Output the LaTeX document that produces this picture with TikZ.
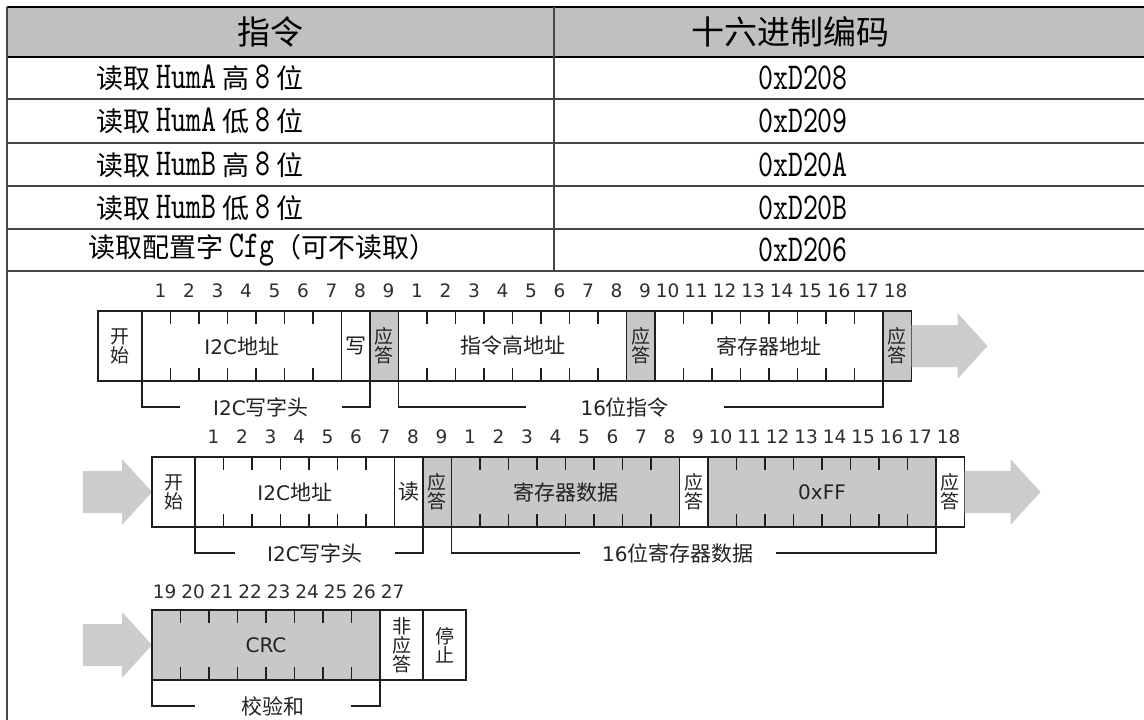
\documentclass[tikz,border=0pt]{standalone}
\usepackage{fontspec}
\newfontfamily\cjk{Noto Sans CJK SC}
\newfontfamily\vd{DejaVu Sans}
\newfontfamily\tabtt[FakeStretch=0.75]{lmmono10-regular.otf}
\usetikzlibrary{positioning,calc}
\definecolor{headgray}{RGB}{192,192,192}
\definecolor{cellgray}{RGB}{200,200,200}
\definecolor{arrowgray}{RGB}{204,204,204}
\definecolor{framec}{RGB}{30,30,30}
\definecolor{textc}{RGB}{34,34,34}
\definecolor{numc}{RGB}{45,45,45}
\definecolor{tabc}{RGB}{70,70,70}
\def\bw{28.5}
\newcommand{\lat}[1]{{\fontsize{20}{20}\selectfont\vd #1}}
\newcommand{\hexf}[1]{{\fontsize{38}{38}\selectfont\tabtt #1}}
% ticks inside a field of several bits
\newcommand{\bitticks}[2]{%
  \foreach \k in {1,...,#2} {
    \draw[tick] ($(#1.north west)+(\k*\bw,0)$) -- ++(0,13);
    \draw[tick] ($(#1.south west)+(\k*\bw,0)$) -- ++(0,-13);
  }}
% bracket under a group of fields
\newcommand{\fieldbrace}[6]{%
  \draw[brace] (#1) -- ++(0,26) -- ++(#3,0);
  \draw[brace] (#2) -- ++(0,26) -- ++(-#4,0);
  \node[bracetext] (#6) at ($(#1)!0.5!(#2)+(#3/2-#4/2,26)$) {#5};}
% big grey arrow: left x, middle y, length
\newcommand{\flowarrow}[3]{%
  \fill[arrowgray] (#1,#2-21) -- (#1+#3-30,#2-21) -- (#1+#3-30,#2-33) -- (#1+#3,#2)
    -- (#1+#3-30,#2+33) -- (#1+#3-30,#2+21) -- (#1,#2+21) -- cycle;}

\begin{document}
\begin{tikzpicture}[x=1pt, y=-1pt,
  cell/.style={draw=framec, line width=1.9pt, minimum height=70pt, inner sep=0pt,
    outer sep=0pt, anchor=west, text=textc, font=\fontsize{21}{21}\selectfont\cjk},
  ackcell/.style={cell, align=center, font=\fontsize{19}{19}\selectfont\cjk},
  shaded/.style={fill=cellgray},
  tick/.style={draw=framec, line width=1.9pt},
  brace/.style={draw=framec, line width=1.6pt},
  bracetext/.style={text=textc, inner sep=0pt, fill=white, font=\fontsize{21}{21}\selectfont\cjk},
  bitno/.style={anchor=east, text=numc, inner sep=0pt, font=\fontsize{18.5}{18.5}\selectfont\vd},
  rowtext/.style={inner sep=0pt, font=\fontsize{27}{27}\selectfont\cjk},
  headtext/.style={inner sep=0pt, font=\fontsize{33}{33}\selectfont\cjk},
  tabline/.style={draw=tabc, line width=1.5pt},
]
\useasboundingbox (0,0) rectangle (1144,720);

	% table
	\fill[headgray] (7,7) rectangle (1144,57);
	\draw[line width=2pt] (7,7) -- (1144,7);
	\draw[line width=2pt] (7,57) -- (1144,57);
	\foreach \yy in {99,143,186,229,271} \draw[tabline] (7,\yy) -- (1144,\yy);
	\draw[tabline] (554,7) -- (554,271);
	\draw[tabline] (7,7) -- (7,720);

	\node[headtext] (hcmd) at (270,32) {指令};
	\node[headtext] (hcode) at (790,32) {十六进制编码};
	\node[rowtext, anchor=west] (cmd1) at (96,78) {读取 \hexf{HumA} 高 \hexf{8} 位};
	\node[rowtext, anchor=west] (cmd2) at (96,121) {读取 \hexf{HumA} 低 \hexf{8} 位};
	\node[rowtext, anchor=west] (cmd3) at (96,164.5) {读取 \hexf{HumB} 高 \hexf{8} 位};
	\node[rowtext, anchor=west] (cmd4) at (96,207.5) {读取 \hexf{HumB} 低 \hexf{8} 位};
	\node[rowtext, anchor=west] (cmd5) at (88,250) {读取配置字 \hexf{Cfg}（可不读取）};
	\node[rowtext] (code1) at (803,78) {\hexf{0xD208}};
	\node[rowtext] (code2) at (803,121) {\hexf{0xD209}};
	\node[rowtext] (code3) at (803,164.5) {\hexf{0xD20A}};
	\node[rowtext] (code4) at (803,207.5) {\hexf{0xD20B}};
	\node[rowtext] (code5) at (803,250) {\hexf{0xD206}};

	% write frame
	\node[ackcell, minimum width=44pt] (r1start) at (98,346) {开\\始};
	\node[cell, minimum width=7*\bw pt, right=0pt of r1start] (r1addr) {\lat{I2C}地址};
	\node[cell, minimum width=\bw pt, right=0pt of r1addr] (r1wr) {写};
	\node[ackcell, shaded, minimum width=\bw pt, right=0pt of r1wr] (r1ack1) {应\\答};
	\node[cell, minimum width=8*\bw pt, right=0pt of r1ack1] (r1cmd) {指令高地址};
	\node[ackcell, shaded, minimum width=\bw pt, right=0pt of r1cmd] (r1ack2) {应\\答};
	\node[cell, minimum width=8*\bw pt, right=0pt of r1ack2] (r1reg) {寄存器地址};
	\node[ackcell, shaded, minimum width=\bw pt, right=0pt of r1reg] (r1ack3) {应\\答};
	\bitticks{r1addr}{6}
	\bitticks{r1cmd}{7}
	\bitticks{r1reg}{7}
	\foreach \i in {1,...,9} \node[bitno] (r1a\i) at (142+\i*\bw-4,291) {\i};
	\foreach \i in {1,...,18} \node[bitno] (r1b\i) at (142+9*\bw+\i*\bw-4,291) {\i};
	\fieldbrace{r1addr.south west}{r1wr.south east}{38}{28}{\lat{I2C}写字头}{r1head}
	\fieldbrace{r1cmd.south west}{r1reg.south east}{127}{159}{\lat{16}位指令}{r1word}
	\flowarrow{911.5}{346}{76}

	% read frame
	\flowarrow{83}{492}{69}
	\node[ackcell, minimum width=43pt] (r2start) at (152,492) {开\\始};
	\node[cell, minimum width=7*\bw pt, right=0pt of r2start] (r2addr) {\lat{I2C}地址};
	\node[cell, minimum width=\bw pt, right=0pt of r2addr] (r2rd) {读};
	\node[ackcell, shaded, minimum width=\bw pt, right=0pt of r2rd] (r2ack1) {应\\答};
	\node[cell, shaded, minimum width=8*\bw pt, right=0pt of r2ack1] (r2data) {寄存器数据};
	\node[ackcell, minimum width=\bw pt, right=0pt of r2data] (r2ack2) {应\\答};
	\node[cell, shaded, minimum width=8*\bw pt, right=0pt of r2ack2] (r2ff) {\lat{0xFF}};
	\node[ackcell, minimum width=\bw pt, right=0pt of r2ff] (r2ack3) {应\\答};
	\bitticks{r2addr}{6}
	\bitticks{r2data}{7}
	\bitticks{r2ff}{7}
	\foreach \i in {1,...,9} \node[bitno] (r2a\i) at (195+\i*\bw-4,437) {\i};
	\foreach \i in {1,...,18} \node[bitno] (r2b\i) at (195+9*\bw+\i*\bw-4,437) {\i};
	\fieldbrace{r2addr.south west}{r2rd.south east}{40}{28}{\lat{I2C}写字头}{r2head}
	\fieldbrace{r2data.south west}{r2ff.south east}{128}{160}{\lat{16}位寄存器数据}{r2word}
	\flowarrow{964.5}{492}{76}

	% crc frame
	\flowarrow{83}{645}{69}
	\node[cell, shaded, minimum width=8*\bw pt] (r3crc) at (152,645) {\lat{CRC}};
	\node[ackcell, minimum width=43pt, right=0pt of r3crc] (r3nack) {非\\应\\答};
	\node[ackcell, minimum width=43pt, right=0pt of r3nack] (r3stop) {停\\止};
	\bitticks{r3crc}{7}
	\foreach \i in {19,...,27} \node[bitno] (r3n\i) at (152+\i*\bw-18*\bw-4,592) {\i};
	\fieldbrace{r3crc.south west}{r3crc.south east}{43}{29}{校验和}{r3sum}

\end{tikzpicture}
\end{document}
